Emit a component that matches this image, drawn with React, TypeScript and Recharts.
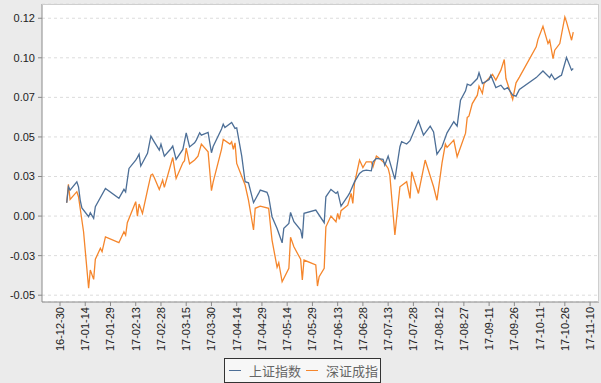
import React from "react";
import { CartesianGrid, Line, LineChart, XAxis, YAxis } from "recharts";

const BLUE = "#4d6f97";
const ORANGE = "#f5862c";

// 上证指数
const shDates = [
  "17-01-03", "17-01-04", "17-01-05", "17-01-09", "17-01-10", "17-01-11", "17-01-12", "17-01-16",
  "17-01-17", "17-01-19", "17-01-20", "17-01-26", "17-02-03", "17-02-06", "17-02-07", "17-02-08",
  "17-02-09", "17-02-13", "17-02-14", "17-02-15", "17-02-16", "17-02-20", "17-02-22", "17-02-24",
  "17-02-27", "17-02-28", "17-03-02", "17-03-06", "17-03-07", "17-03-09", "17-03-13", "17-03-15",
  "17-03-17", "17-03-20", "17-03-21", "17-03-23", "17-03-24", "17-03-28", "17-03-30", "17-03-31",
  "17-04-05", "17-04-06", "17-04-07", "17-04-11", "17-04-13", "17-04-14", "17-04-17", "17-04-19",
  "17-04-21", "17-04-24", "17-04-27", "17-04-28", "17-05-02", "17-05-03", "17-05-05", "17-05-08",
  "17-05-11", "17-05-12", "17-05-15", "17-05-16", "17-05-18", "17-05-22", "17-05-23", "17-05-24",
  "17-05-31", "17-06-05", "17-06-06", "17-06-09", "17-06-12", "17-06-13", "17-06-15", "17-06-19",
  "17-06-20", "17-06-23", "17-06-26", "17-06-28", "17-06-30", "17-07-03", "17-07-04", "17-07-06",
  "17-07-10", "17-07-11", "17-07-13", "17-07-17", "17-07-20", "17-07-21", "17-07-24", "17-07-26",
  "17-07-31", "17-08-03", "17-08-07", "17-08-09", "17-08-11", "17-08-14", "17-08-17", "17-08-21",
  "17-08-23", "17-08-25", "17-08-28", "17-08-29", "17-08-31", "17-09-04", "17-09-05", "17-09-07",
  "17-09-11", "17-09-12", "17-09-15", "17-09-18", "17-09-20", "17-09-22", "17-09-25", "17-09-27",
  "17-09-29", "17-10-09", "17-10-13", "17-10-17", "17-10-18", "17-10-20", "17-10-23", "17-10-24",
  "17-10-27", "17-10-30", "17-10-31",
];
const shValues = [
  0.0084, 0.0185, 0.0164, 0.0217, 0.0185, 0.0101, 0.0051, -0.0004,
  0.0021, -0.0015, 0.0059, 0.0175, 0.0112, 0.0169, 0.0153, 0.0227,
  0.0301, 0.0354, 0.0371, 0.0391, 0.0316, 0.0396, 0.0505, 0.0469,
  0.0417, 0.0455, 0.0379, 0.0427, 0.0442, 0.0358, 0.0421, 0.0526,
  0.0437, 0.0463, 0.048, 0.0526, 0.0511, 0.0528, 0.04, 0.0439,
  0.055, 0.0581, 0.056, 0.0592, 0.0554, 0.0557, 0.0379, 0.0217,
  0.021, 0.0085, 0.0143, 0.0164, 0.015, 0.0122, -0.0004, -0.0078,
  -0.0169, -0.0078, -0.0046, 0.0023, -0.0036, -0.0088, -0.0141, 0.0017,
  0.0038, -0.0042, 0.0122, 0.0168, 0.0143, 0.0154, 0.0063, 0.0126,
  0.0143, 0.0216, 0.0269, 0.0286, 0.029, 0.0286, 0.0343, 0.0364,
  0.0358, 0.0322, 0.0379, 0.0232, 0.0438, 0.047, 0.0455, 0.0476,
  0.0602, 0.0512, 0.0568, 0.0532, 0.0391, 0.0438, 0.0526, 0.0596,
  0.0568, 0.0732, 0.0791, 0.0833, 0.0825, 0.0869, 0.0905, 0.0838,
  0.0863, 0.089, 0.0812, 0.0827, 0.08, 0.0812, 0.0764, 0.0758,
  0.08, 0.0875, 0.0917, 0.0875, 0.0896, 0.0863, 0.0884, 0.089,
  0.1002, 0.0922, 0.0932,
];

// 深证成指
const szDates = [
  "17-01-03", "17-01-04", "17-01-05", "17-01-09", "17-01-10", "17-01-11", "17-01-13", "17-01-16",
  "17-01-17", "17-01-19", "17-01-20", "17-01-23", "17-01-24", "17-01-26", "17-02-03", "17-02-06",
  "17-02-07", "17-02-08", "17-02-13", "17-02-14", "17-02-15", "17-02-17", "17-02-20", "17-02-22",
  "17-02-23", "17-02-24", "17-02-27", "17-03-01", "17-03-02", "17-03-07", "17-03-09", "17-03-13",
  "17-03-14", "17-03-15", "17-03-17", "17-03-20", "17-03-22", "17-03-24", "17-03-28", "17-03-30",
  "17-03-31", "17-04-05", "17-04-06", "17-04-10", "17-04-11", "17-04-12", "17-04-13", "17-04-14",
  "17-04-19", "17-04-21", "17-04-24", "17-04-25", "17-04-28", "17-05-03", "17-05-05", "17-05-08",
  "17-05-09", "17-05-11", "17-05-15", "17-05-16", "17-05-18", "17-05-22", "17-05-23", "17-05-24",
  "17-05-31", "17-06-01", "17-06-02", "17-06-05", "17-06-06", "17-06-09", "17-06-12", "17-06-13",
  "17-06-14", "17-06-15", "17-06-19", "17-06-21", "17-06-22", "17-06-23", "17-06-26", "17-06-28",
  "17-06-30", "17-07-03", "17-07-04", "17-07-06", "17-07-07", "17-07-11", "17-07-13", "17-07-14",
  "17-07-17", "17-07-20", "17-07-24", "17-07-26", "17-07-27", "17-07-31", "17-08-04", "17-08-09",
  "17-08-11", "17-08-14", "17-08-16", "17-08-17", "17-08-21", "17-08-23", "17-08-28", "17-08-29",
  "17-08-30", "17-09-01", "17-09-04", "17-09-05", "17-09-07", "17-09-08", "17-09-13", "17-09-15",
  "17-09-18", "17-09-20", "17-09-21", "17-09-25", "17-09-27", "17-09-29", "17-10-09", "17-10-10",
  "17-10-13", "17-10-16", "17-10-17", "17-10-19", "17-10-20", "17-10-23", "17-10-26", "17-10-27",
  "17-10-30", "17-10-31",
];
const szValues = [
  0.0084, 0.02, 0.0105, 0.0154, 0.0122, 0.0048, -0.0099, -0.0456,
  -0.0341, -0.04, -0.0273, -0.0204, -0.0225, -0.0131, -0.0168, -0.0099,
  -0.012, -0.0042, 0.0091, 0.0, 0.0076, 0.0017, 0.0164, 0.0259,
  0.0265, 0.0244, 0.0168, 0.0227, 0.0181, 0.037, 0.0238, 0.0337,
  0.035, 0.0429, 0.033, 0.0354, 0.0379, 0.0455, 0.0406, 0.016,
  0.0215, 0.0423, 0.0484, 0.0455, 0.0469, 0.0421, 0.0463, 0.0333,
  0.0196, 0.0101, -0.0088, 0.0049, 0.0063, 0.0049, -0.0152, -0.0324,
  -0.0295, -0.0415, -0.033, -0.0134, -0.0194, -0.0273, -0.0404, -0.0278,
  -0.0309, -0.0442, -0.0383, -0.033, -0.0068, 0.0, -0.0036, 0.0017,
  -0.0021, 0.0034, 0.0069, 0.0143, 0.008, 0.0206, 0.0354, 0.0307,
  0.0343, 0.0343, 0.0311, 0.0379, 0.0371, 0.0333, 0.0301, 0.0259,
  -0.012, 0.0185, 0.0217, 0.0112, 0.028, 0.0143, 0.0354, 0.0185,
  0.01, 0.0334, 0.0455, 0.0434, 0.048, 0.0375, 0.0524, 0.0623,
  0.0631, 0.0711, 0.0764, 0.0821, 0.0775, 0.0838, 0.0896, 0.0859,
  0.0922, 0.0989, 0.0869, 0.0737, 0.0842, 0.0878, 0.1069, 0.1115,
  0.1199, 0.109, 0.1111, 0.0995, 0.1048, 0.109, 0.1258, 0.1227,
  0.1111, 0.1163,
];

const xTickLabels = [
  "16-12-30", "17-01-14", "17-01-29", "17-02-13", "17-02-28", "17-03-15", "17-03-30", "17-04-14",
  "17-04-29", "17-05-14", "17-05-29", "17-06-13", "17-06-28", "17-07-13", "17-07-28", "17-08-12",
  "17-08-27", "17-09-11", "17-09-26", "17-10-11", "17-10-26", "17-11-10",
];
const yTicks = [-0.05, -0.025, 0, 0.025, 0.05, 0.075, 0.1, 0.125];
const yTickLabels = ["-0.05", "-0.03", "0.00", "0.03", "0.05", "0.07", "0.10", "0.12"];

const START = Date.UTC(2016, 11, 30);
const dayOf = (s: string) => {
  const [y, m, d] = s.split("-").map(Number);
  return (Date.UTC(2000 + y, m - 1, d) - START) / 86400000;
};

const shData = shDates.map((d, i) => ({ t: dayOf(d), v: shValues[i] }));
const szData = szDates.map((d, i) => ({ t: dayOf(d), v: szValues[i] }));
const xTicks = xTickLabels.map(dayOf);

const FONT = "'Liberation Sans', Arial, sans-serif";

const DateTick = (props: any) => {
  const { x, y, payload } = props;
  const idx = xTicks.indexOf(payload.value);
  const tx = x + 4;
  const ty = y - 1;
  return (
    <text
      x={tx}
      y={ty}
      transform={`rotate(-90 ${tx} ${ty})`}
      textAnchor="end"
      fontSize={11}
      fontFamily={FONT}
      fill="#222"
    >
      {xTickLabels[idx]}
    </text>
  );
};

export default function App() {
  return (
    <div style={{ position: "relative", width: 601, height: 383, background: "#ebebeb" }}>
      <style>{`body{margin:0}`}</style>
      <LineChart width={601} height={383} margin={{ top: 4, right: 2, bottom: 0, left: 0 }}>
        <CartesianGrid
          vertical={false}
          fill="#ffffff"
          stroke="#dcdcdc"
          strokeDasharray="3 3"
        />
        <XAxis
          type="number"
          dataKey="t"
          domain={[-10.7, 320.3]}
          ticks={xTicks}
          interval={0}
          height={81}
          tickSize={4}
          tickMargin={2}
          stroke="#8a8a8a"
          tick={<DateTick />}
          allowDataOverflow
        />
        <YAxis
          type="number"
          domain={[-0.0543, 0.134]}
          ticks={yTicks}
          width={42}
          tickSize={4}
          tickMargin={3}
          stroke="#8a8a8a"
          tick={{ fontSize: 11, fontFamily: FONT, fill: "#222" }}
          tickFormatter={(v: number) => yTickLabels[yTicks.indexOf(v)]}
          allowDataOverflow
        />
        <Line
          data={szData}
          dataKey="v"
          stroke={ORANGE}
          strokeWidth={1.3}
          dot={false}
          isAnimationActive={false}
        />
        <Line
          data={shData}
          dataKey="v"
          stroke={BLUE}
          strokeWidth={1.3}
          dot={false}
          isAnimationActive={false}
        />
      </LineChart>
      <div
        style={{
          position: "absolute",
          left: 42,
          top: 4,
          width: 556,
          height: 297,
          borderTop: "1px solid #cfcfcf",
          borderRight: "1px solid #cfcfcf",
          pointerEvents: "none",
        }}
      />
      <div
        style={{
          position: "absolute",
          left: 224,
          top: 358,
          width: 155,
          height: 23,
          border: "1px solid #333",
          background: "#f7f7f7",
          display: "flex",
          alignItems: "center",
          fontFamily: "'Noto Sans CJK SC', sans-serif",
          fontSize: 13,
          color: "#666",
        }}
      >
        <span style={{ display: "inline-block", width: 12, height: 0, borderTop: `1.5px solid ${BLUE}`, marginLeft: 4, marginRight: 8 }} />
        <span>上证指数</span>
        <span style={{ display: "inline-block", width: 12, height: 0, borderTop: `1.5px solid ${ORANGE}`, marginLeft: 5, marginRight: 8 }} />
        <span>深证成指</span>
      </div>
    </div>
  );
}
